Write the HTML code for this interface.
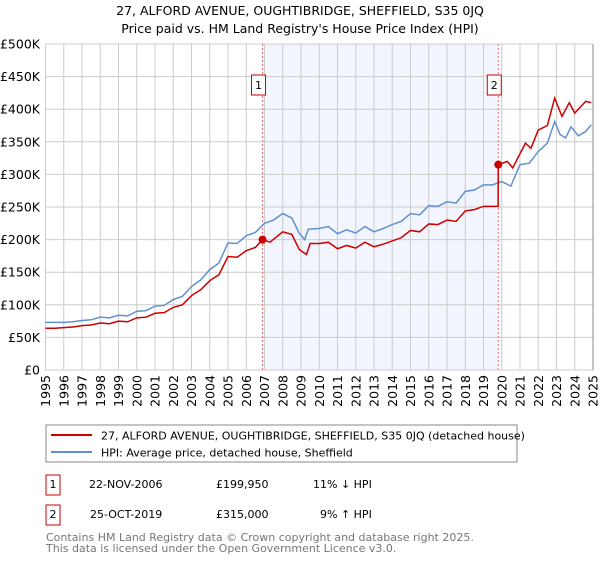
<!DOCTYPE html>
<html><head><meta charset="utf-8"><style>
body{margin:0;background:#fff;font-family:"Liberation Sans","DejaVu Sans",sans-serif;}
svg text{font-family:"DejaVu Sans","Liberation Sans",sans-serif;}
</style></head><body>
<svg id="chart" width="600" height="560" xmlns="http://www.w3.org/2000/svg">
<text x="300" y="15" text-anchor="middle" font-size="12.5">27, ALFORD AVENUE, OUGHTIBRIDGE, SHEFFIELD, S35 0JQ</text>
<text x="300" y="33" text-anchor="middle" font-size="12.5">Price paid vs. HM Land Registry's House Price Index (HPI)</text>
<g id="plot"></g>
<g>
<rect x="46" y="425" width="471" height="37" fill="#fff" stroke="#888"/>
<line x1="51" y1="435" x2="92" y2="435" stroke="#cc0000" stroke-width="2"/>
<text x="101" y="439.5" font-size="11">27, ALFORD AVENUE, OUGHTIBRIDGE, SHEFFIELD, S35 0JQ (detached house)</text>
<line x1="51" y1="452" x2="92" y2="452" stroke="#6090d0" stroke-width="2"/>
<text x="101" y="456.5" font-size="11">HPI: Average price, detached house, Sheffield</text>
</g>
<g font-size="11">
<rect x="46" y="475" width="14" height="20" fill="#fff" stroke="#cc0000"/>
<text x="53" y="488" text-anchor="middle">1</text>
<text x="89" y="488">22-NOV-2006</text>
<text x="216" y="488">£199,950</text>
<text x="313" y="488">11% ↓ HPI</text>
<rect x="46" y="505" width="14" height="20" fill="#fff" stroke="#cc0000"/>
<text x="53" y="518" text-anchor="middle">2</text>
<text x="90" y="518">25-OCT-2019</text>
<text x="216" y="518">£315,000</text>
<text x="320" y="518">9% ↑ HPI</text>
</g>
<text x="46" y="541" font-size="11" fill="#777">Contains HM Land Registry data © Crown copyright and database right 2025.</text>
<text x="46" y="552" font-size="11" fill="#777">This data is licensed under the Open Government Licence v3.0.</text>
</svg>
<script>
const hpiYears=[1995,1995.5,1996,1996.5,1997,1997.5,1998,1998.5,1999,1999.5,2000,2000.5,2001,2001.5,2002,2002.5,2003,2003.5,2004,2004.5,2005,2005.5,2006,2006.5,2007,2007.5,2008,2008.5,2008.9,2009.2,2009.4,2010,2010.5,2011,2011.5,2012,2012.5,2013,2013.5,2014,2014.5,2015,2015.5,2016,2016.5,2017,2017.5,2018,2018.5,2019,2019.5,2020,2020.5,2021,2021.5,2022,2022.5,2022.9,2023.2,2023.5,2023.8,2024.2,2024.6,2024.9];
const hpiValues=[73,73,73,74,76,77,81,80,84,83,90,91,98,99,108,113,128,138,154,164,195,194,206,211,225,230,240,233,210,200,216,217,220,209,215,210,220,212,217,223,228,240,238,252,251,258,256,274,276,284,284,289,282,315,317,335,348,381,361,356,373,359,366,376];
const redYears=[1995,1995.5,1996,1996.5,1997,1997.5,1998,1998.5,1999,1999.5,2000,2000.5,2001,2001.5,2002,2002.5,2003,2003.5,2004,2004.5,2005,2005.5,2006,2006.5,2006.89,2007.3,2008,2008.5,2008.9,2009.3,2009.5,2010,2010.5,2011,2011.5,2012,2012.5,2013,2013.5,2014,2014.5,2015,2015.5,2016,2016.5,2017,2017.5,2018,2018.5,2019,2019.5,2019.8,2019.81,2020.3,2020.6,2021.3,2021.6,2022,2022.5,2022.9,2023.3,2023.7,2024,2024.6,2024.9];
const redValues=[64,64,65,66,68,69,72,71,75,74,80,81,87,88,96,100,114,123,137,146,174,173,183,188,200,196,212,208,185,177,194,194,196,186,191,187,196,189,193,198,203,214,212,224,223,230,228,244,246,251,251,251,315,320,310,348,340,368,375,417,389,410,394,412,410];
const sales=[{n:"1",year:2006.89,value:199.95},{n:"2",year:2019.81,value:315}];
const yTicks=[0,50,100,150,200,250,300,350,400,450,500];
const yLabels=["£0","£50K","£100K","£150K","£200K","£250K","£300K","£350K","£400K","£450K","£500K"];
const xTicks=[1995,1996,1997,1998,1999,2000,2001,2002,2003,2004,2005,2006,2007,2008,2009,2010,2011,2012,2013,2014,2015,2016,2017,2018,2019,2020,2021,2022,2023,2024,2025];

const X0=45.5,X1=593,Y0=370,Y1=44;
const xs=y=>X0+(y-1995)/30*(X1-X0);
const ys=v=>Y0-v/500*(Y0-Y1);
const NS="http://www.w3.org/2000/svg";
const g=document.getElementById('plot');
function mk(t,a,p){const e=document.createElementNS(NS,t);for(const k in a)e.setAttribute(k,a[k]);(p||g).appendChild(e);return e;}

const shade=mk('rect',{x:xs(sales[0].year),y:Y1,width:xs(sales[1].year)-xs(sales[0].year),height:Y0-Y1,fill:'#f2f5fd'});


yTicks.forEach((v,i)=>{
  const l=mk('line',{x1:X0,x2:X1,y1:ys(v),y2:ys(v),stroke:'#cccccc','stroke-width':1});
  
  
  const t=mk('text',{x:40,y:ys(v)+4.5,'text-anchor':'end','font-size':12.5});
  t.textContent=yLabels[i];
  
  
});
xTicks.forEach(yr=>{
  const l=mk('line',{x1:xs(yr),x2:xs(yr),y1:Y1,y2:Y0,stroke:'#cccccc','stroke-width':1});
  
  
  const t=mk('text',{x:0,y:0,'text-anchor':'end','font-size':12.5,transform:`translate(${xs(yr)+4.5},375) rotate(-90)`});
  t.textContent=yr;
  
  
});
const rb=mk('line',{x1:X1,x2:X1,y1:Y1,y2:Y0,stroke:'#888','stroke-width':1});


sales.forEach(s=>{
  const l=mk('line',{x1:xs(s.year),x2:xs(s.year),y1:Y1,y2:Y0,stroke:'#f07070','stroke-width':1,'stroke-dasharray':'2,2'});
  
  
});
const hp=mk('polyline',{points:hpiYears.map((y,i)=>xs(y)+','+ys(hpiValues[i])).join(' '),fill:'none',stroke:'#6090d0','stroke-width':1.5});


const rp=mk('polyline',{points:redYears.map((y,i)=>xs(y)+','+ys(redValues[i])).join(' '),fill:'none',stroke:'#cc0000','stroke-width':1.5});


sales.forEach(s=>{
  const c=mk('circle',{cx:xs(s.year),cy:ys(s.value),r:4,fill:'#cc0000'});
  
  
  const b=mk('rect',{x:xs(s.year)-11,y:75,width:14,height:20,fill:'#fff',stroke:'#cc0000'});
  
  
  const t=mk('text',{x:xs(s.year)-4,y:89,'text-anchor':'middle','font-size':11});
  t.textContent=s.n;
  
  
});
</script>
</body></html>
